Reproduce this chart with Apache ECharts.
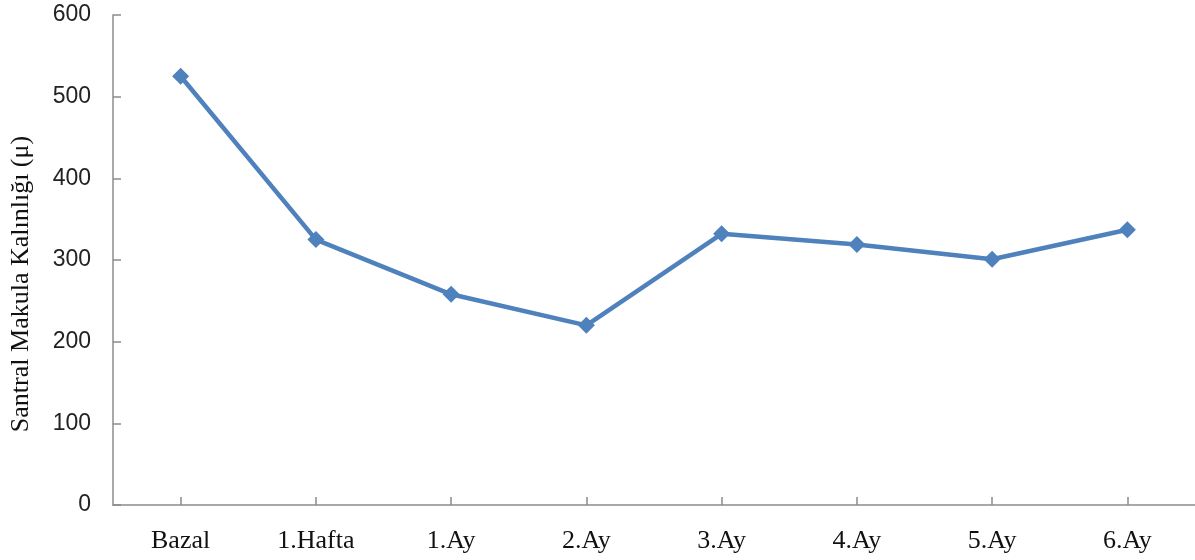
<!DOCTYPE html>
<html>
<head>
<meta charset="utf-8">
<script src="https://cdn.jsdelivr.net/npm/echarts@6/dist/echarts.min.js"></script>
<style>html,body{margin:0;padding:0;background:#fff}#c{width:1195px;height:560px}</style>
</head>
<body>
<div id="c"></div>
<script>
const categories = ["Bazal", "1.Hafta", "1.Ay", "2.Ay", "3.Ay", "4.Ay", "5.Ay", "6.Ay"];
const values = [525, 325, 258, 220, 332, 319, 301, 337];
const yAxisName = "Santral Makula Kalınlığı (μ)";

const chart = echarts.init(document.getElementById('c'), null, {renderer: 'canvas'});
chart.setOption({
  animation: false,
  grid: {left: 110, top: 15, width: 1090, height: 490, containLabel: false},
  xAxis: {
    type: 'category',
    data: categories,
    boundaryGap: true,
    axisLine: {lineStyle: {color: '#8c8c8c', width: 1.5}},
    axisTick: {show: true, inside: true, alignWithLabel: true, length: 8, lineStyle: {color: '#8c8c8c', width: 1.5}},
    axisLabel: {color: '#111', fontFamily: 'Liberation Serif', fontSize: 26, margin: 23, interval: 0}
  },
  yAxis: {
    type: 'value',
    min: 0, max: 600, interval: 100,
    name: yAxisName,
    nameLocation: 'middle',
    nameRotate: 90,
    nameGap: 79,
    nameTextStyle: {color: '#111', fontFamily: 'Liberation Serif', fontSize: 26, padding: [0, 48, 0, 0]},
    axisLine: {show: true, lineStyle: {color: '#8c8c8c', width: 1.5}},
    axisTick: {show: true, inside: true, length: 8, lineStyle: {color: '#8c8c8c', width: 1.5}},
    splitLine: {show: false},
    axisLabel: {color: '#222', fontFamily: 'Liberation Sans', fontSize: 23, margin: 22}
  },
  series: [{
    type: 'line',
    data: values,
    symbol: 'diamond',
    symbolSize: 17,
    lineStyle: {color: '#4f81bd', width: 4.5},
    itemStyle: {color: '#4f81bd'}
  }]
});
</script>
</body>
</html>
